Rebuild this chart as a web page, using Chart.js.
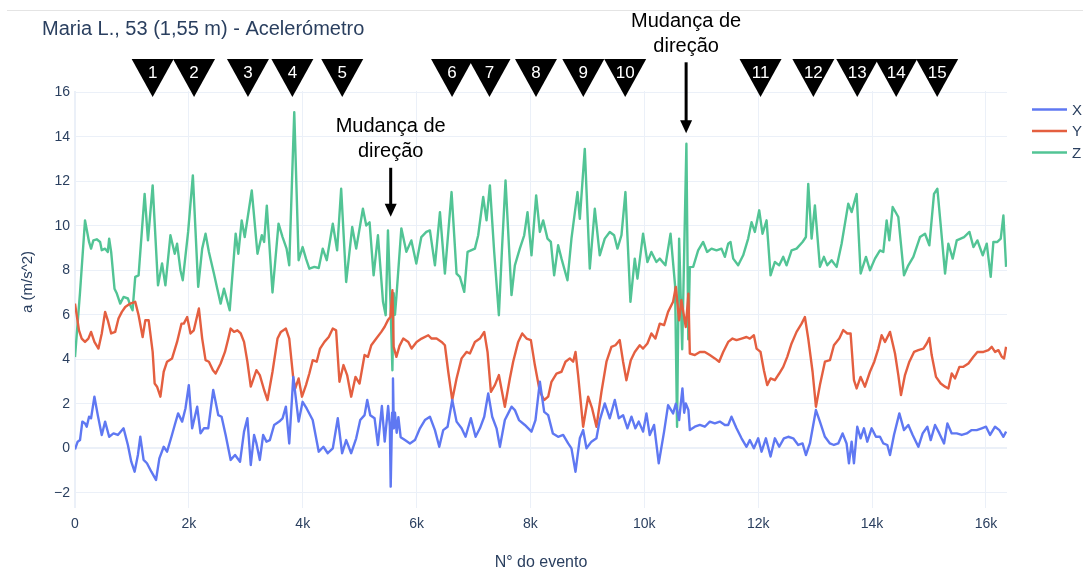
<!DOCTYPE html>
<html>
<head>
<meta charset="utf-8">
<title>Maria L., 53 (1,55 m) - Acelerómetro</title>
<script src="https://cdn.jsdelivr.net/npm/chart.js@4.4.1/dist/chart.umd.min.js"></script>
<style>
  html, body { margin: 0; padding: 0; background: #ffffff; }
  #wrap { width: 1083px; height: 581px; position: relative; }
</style>
</head>
<body>
<div id="wrap"><canvas id="chart" width="1083" height="581"></canvas></div>
<script>
// ---- Accelerometer samples (event number, acceleration in m/s^2) ----
const eventsX = [0,47,88,129,176,206,247,282,341,400,470,529,600,676,753,853,929,988,1047,1105,1147,1205,1264,1341,1423,1482,1558,1617,1694,1752,1811,1882,1940,1999,2058,2146,2205,2264,2340,2428,2517,2575,2646,2734,2811,2899,2969,3028,3087,3146,3187,3246,3305,3363,3422,3498,3587,3646,3704,3763,3834,3928,3998,4069,4175,4281,4363,4439,4528,4616,4692,4763,4851,4939,5010,5086,5133,5186,5262,5321,5390,5440,5500,5530,5545,5570,5585,5600,5620,5650,5680,5720,5795,5883,5971,6059,6146,6234,6322,6398,6468,6544,6626,6702,6790,6860,6953,7036,7112,7188,7258,7328,7404,7463,7550,7609,7667,7726,7798,7901,8018,8088,8165,8241,8311,8393,8486,8574,8662,8720,8791,8867,8925,8984,9071,9159,9217,9305,9393,9481,9551,9627,9703,9774,9843,9902,9978,10037,10095,10171,10253,10347,10417,10505,10553,10611,10669,10700,10728,10774,10799,10887,10975,11062,11150,11238,11326,11414,11473,11531,11619,11707,11795,11853,11924,12000,12059,12135,12217,12293,12369,12451,12527,12615,12703,12779,12838,12908,13014,13084,13172,13260,13330,13406,13482,13552,13594,13641,13682,13740,13799,13857,13916,13992,14068,14139,14198,14268,14315,14385,14479,14561,14637,14713,14813,14889,14971,15030,15106,15182,15264,15323,15399,15487,15575,15663,15750,15838,15926,16002,16073,16160,16236,16307,16354];
const accelX = [-0.05,0.3,0.37,1.2,1.12,0.97,1.42,1.35,2.32,1.49,0.6,1.2,0.52,0.67,0.6,0.9,0.15,-0.6,-1.05,-0.3,0.52,-0.52,-0.67,-1.05,-1.42,-0.45,0.07,-0.15,0.52,1.05,1.57,1.2,1.79,2.84,0.9,1.87,0.67,0.9,0.9,2.62,1.49,1.42,0.6,-0.52,-0.3,-0.6,0.75,1.35,-0.75,0.6,0.22,-0.52,0.6,0.3,0.37,1.05,1.2,1.35,1.87,0.22,3.21,1.2,2.09,1.79,1.27,-0.15,0.07,-0.22,0.0,1.35,-0.22,0.37,-0.22,0.45,1.27,1.49,2.17,1.49,1.35,0.15,1.9,0.3,1.9,1.0,-1.72,1.6,3.14,0.9,1.6,0.7,1.4,0.5,0.37,0.22,0.37,0.9,1.27,1.42,0.82,0.07,0.82,0.97,2.17,1.2,0.9,0.52,1.35,0.52,0.9,1.42,2.47,1.42,0.9,0.07,1.27,1.57,1.87,1.72,1.27,1.05,0.75,1.27,2.99,1.64,1.49,0.67,0.52,0.6,0.22,0.0,-1.05,0.45,0.82,0.0,0.3,0.45,1.27,2.02,1.35,2.17,1.35,1.49,0.9,1.42,0.9,1.2,0.75,1.57,0.6,1.05,-0.67,0.75,1.94,1.57,2.0,1.27,2.69,1.6,2.02,1.72,0.82,0.97,1.05,0.97,1.2,1.12,1.2,1.05,1.05,1.42,0.9,0.45,0.07,0.37,0.0,0.45,-0.15,0.45,-0.37,0.45,0.07,0.45,0.52,0.45,0.15,0.22,-0.3,0.22,1.72,1.2,0.52,0.22,0.15,0.22,0.67,0.22,-0.67,0.3,-0.67,0.97,0.45,0.9,0.3,0.9,0.52,0.52,0.22,0.15,-0.3,0.6,1.57,0.82,1.05,0.6,0.07,0.67,0.97,0.37,1.05,0.67,0.22,1.12,0.67,0.67,0.6,0.67,0.82,0.82,0.9,0.97,0.6,0.97,0.82,0.52,0.75];

const eventsY = [0,70,118,176,235,282,341,412,470,529,576,635,706,764,823,882,970,1058,1117,1188,1235,1294,1364,1399,1441,1500,1558,1617,1705,1793,1870,1911,1970,2029,2087,2176,2234,2293,2352,2423,2470,2558,2634,2693,2734,2793,2852,2911,2969,3028,3087,3146,3187,3246,3322,3381,3469,3557,3616,3704,3763,3834,3869,3928,3987,4057,4116,4175,4245,4304,4381,4457,4528,4586,4645,4716,4780,4851,4927,4998,5086,5145,5204,5292,5380,5439,5497,5540,5575,5597,5645,5700,5766,5854,5912,6000,6088,6205,6263,6351,6439,6497,6556,6626,6702,6790,6877,6936,7024,7112,7188,7246,7305,7375,7445,7550,7638,7696,7784,7855,7931,8007,8077,8165,8241,8311,8369,8457,8545,8615,8691,8750,8791,8837,8925,9013,9083,9159,9247,9335,9422,9492,9568,9627,9685,9762,9832,9919,9978,10054,10124,10194,10271,10347,10417,10505,10553,10611,10650,10728,10774,10799,10887,10975,11062,11150,11238,11314,11385,11473,11549,11619,11707,11795,11853,11924,11971,12041,12100,12158,12217,12293,12369,12440,12510,12586,12674,12762,12820,12879,12955,13014,13084,13172,13260,13330,13424,13494,13565,13623,13682,13729,13799,13875,13963,14039,14110,14168,14227,14315,14403,14461,14508,14578,14655,14737,14813,14901,14960,15006,15047,15123,15206,15282,15340,15399,15457,15534,15604,15692,15780,15850,15956,16043,16102,16160,16219,16278,16319,16354];
const accelY = [6.5,5.3,4.93,4.78,4.93,5.23,4.78,4.48,5.16,6.13,5.75,5.16,5.23,5.83,6.13,6.35,6.5,6.58,5.98,5.0,5.75,5.75,4.33,2.91,2.77,2.32,3.44,3.89,4.04,4.78,5.6,5.6,5.9,5.16,5.3,6.28,4.93,3.96,3.89,3.51,3.36,3.81,4.33,4.93,5.38,5.23,5.3,5.16,4.78,3.89,2.77,3.21,3.51,3.29,2.62,2.17,3.44,4.93,5.23,5.38,4.93,3.14,2.69,3.14,2.32,2.84,3.36,3.96,3.89,4.48,4.78,5.0,5.38,5.3,2.99,3.74,3.29,2.32,3.21,2.91,4.19,4.11,4.63,4.93,5.23,5.46,5.76,5.9,7.1,4.56,4.11,4.6,4.93,4.78,4.48,4.78,4.93,5.08,4.93,4.93,4.78,4.63,3.44,2.17,3.14,4.04,4.33,4.26,4.78,4.93,5.23,4.33,2.54,2.84,3.29,1.87,3.14,3.89,4.78,5.16,4.93,4.86,3.74,2.54,2.17,2.32,2.99,3.36,3.44,3.89,4.04,3.89,4.33,3.29,0.97,2.32,1.79,0.97,2.54,3.89,4.56,4.63,4.86,3.89,3.06,3.96,4.33,4.63,4.48,4.71,5.16,4.93,5.6,5.53,6.13,6.58,7.25,5.75,6.65,5.45,6.95,4.26,4.19,4.33,4.33,4.19,4.04,3.89,4.33,4.78,4.93,4.86,4.93,5.0,4.93,5.08,4.48,4.33,3.51,2.84,3.14,3.06,3.36,3.66,4.11,4.71,5.23,5.6,5.9,4.93,3.44,1.87,2.84,3.89,3.96,4.63,4.93,5.31,5.16,5.16,3.06,2.69,3.21,2.77,3.44,3.89,4.48,5.08,4.78,5.23,4.26,3.29,2.39,3.29,3.89,4.33,4.41,4.48,4.71,4.96,4.19,3.21,2.91,2.77,2.69,3.36,3.14,3.66,3.66,3.81,4.11,4.33,4.33,4.41,4.56,4.33,4.41,4.11,4.04,4.56];

const eventsZ = [0,88,176,247,282,323,382,441,470,529,576,600,635,694,735,794,853,929,970,1011,1058,1117,1223,1282,1364,1458,1529,1588,1676,1752,1793,1852,1893,1987,2070,2164,2234,2293,2352,2440,2499,2558,2617,2717,2822,2869,2928,2981,3105,3205,3281,3322,3369,3469,3575,3646,3716,3763,3851,3928,3998,4057,4116,4204,4281,4351,4422,4528,4604,4675,4763,4869,4939,5057,5116,5174,5245,5321,5410,5457,5497,5540,5575,5597,5620,5645,5732,5820,5908,5995,6083,6171,6234,6322,6410,6497,6614,6702,6760,6837,6895,7024,7082,7170,7228,7287,7363,7445,7503,7562,7667,7726,7813,7890,7948,8018,8100,8165,8223,8299,8358,8416,8486,8545,8650,8720,8826,8867,8954,9042,9130,9217,9305,9393,9469,9528,9598,9668,9756,9832,9879,9978,10054,10124,10212,10271,10370,10460,10540,10575,10611,10665,10739,10772,10799,10858,10945,11033,11103,11180,11268,11355,11414,11473,11514,11561,11648,11736,11824,11883,11941,12018,12076,12147,12217,12293,12369,12440,12498,12586,12674,12779,12838,12879,12938,12996,13084,13154,13213,13289,13377,13465,13582,13641,13729,13799,13893,13963,14051,14139,14198,14256,14303,14362,14461,14561,14637,14725,14842,14930,15006,15088,15147,15206,15282,15340,15416,15487,15557,15616,15710,15780,15850,15944,16014,16084,16131,16201,16260,16307,16354];
const accelZ = [4.1,7.0,10.24,9.27,8.97,9.34,9.39,9.27,8.9,8.97,8.82,9.42,8.82,7.17,6.95,6.5,6.8,6.73,6.43,6.2,7.7,7.77,11.43,9.34,11.81,7.32,8.3,7.32,9.57,8.74,9.19,8.0,7.55,9.72,12.26,7.25,8.97,9.64,8.82,7.85,7.17,6.5,7.17,6.2,9.64,8.74,10.24,9.49,11.58,8.74,9.57,9.27,10.9,7.0,10.09,9.49,8.97,8.22,15.1,8.45,9.04,8.52,8.07,8.15,8.1,8.97,8.45,10.09,8.89,11.66,7.47,9.94,8.97,10.76,10.01,10.15,7.77,9.57,6.58,5.98,9.79,6.65,3.51,6.97,6.0,6.8,9.88,8.83,9.34,8.3,9.49,9.72,9.79,8.22,10.61,7.85,11.51,7.85,7.7,7.03,8.82,8.97,9.57,11.29,10.24,11.81,8.82,5.98,9.12,12.03,6.88,8.22,8.97,9.57,10.61,8.67,11.36,9.72,10.24,9.42,9.27,7.77,9.12,8.52,7.55,9.42,11.51,10.31,13.45,8.07,10.76,8.67,9.42,9.72,9.57,8.97,9.57,11.51,6.58,8.52,7.62,9.64,8.37,8.82,8.37,8.52,8.22,9.64,7.32,0.97,9.42,4.45,13.68,4.9,8.14,8.15,8.89,9.27,8.82,8.97,8.89,8.97,8.6,9.19,9.27,8.52,8.22,8.67,9.42,10.16,9.72,10.69,9.64,10.24,7.77,8.37,8.22,8.6,8.22,8.89,8.97,9.27,9.49,11.88,9.42,10.91,8.15,8.6,8.22,8.45,8.15,9.19,10.99,10.61,11.43,7.85,8.6,8.0,8.52,8.89,8.82,10.24,9.34,10.84,10.39,7.77,8.22,8.6,9.49,9.64,9.12,11.43,11.66,10.01,7.85,9.19,8.52,9.34,9.42,9.49,9.72,9.04,9.34,8.67,9.19,7.7,9.27,9.27,9.42,10.46,8.15];

// ---- Axis ticks ----
const xTickValues = [0, 2000, 4000, 6000, 8000, 10000, 12000, 14000, 16000];
const yTickValues = [-2, 0, 2, 4, 6, 8, 10, 12, 14, 16];

// ---- Step markers (numbered triangles) and direction changes ----
const stepLabels = ['1','2','3','4','5','6','7','8','9','10','11','12','13','14','15'];
const stepEvents = [1364, 2091, 3038, 3818, 4694, 6623, 7280, 8097, 8928, 9664, 12041, 12969, 13740, 14424, 15144];
const turnEvents = [5545, 10734];
const turnTipValues = [10.4, 14.15];
const turnText = ['Mudança de', 'direção'];

const COLORS = { X: '#5f78f2', Y: '#e45f40', Z: '#52c495' };
const INK = '#2a3f5f';
const GRID = '#EBF0F8';
const FONT = '"Liberation Sans", Arial, Helvetica, sans-serif';

function toPoints(xs, ys) {
  return xs.map((v, i) => ({ x: v, y: ys[i] }));
}

const seriesList = [
  { label: 'X', data: toPoints(eventsX, accelX), color: COLORS.X },
  { label: 'Y', data: toPoints(eventsY, accelY), color: COLORS.Y },
  { label: 'Z', data: toPoints(eventsZ, accelZ), color: COLORS.Z }
];

// Title, axis titles, legend, step triangles and direction arrows
const decorations = {
  id: 'decorations',
  afterDraw(chart) {
    const { ctx } = chart;
    const xs = chart.scales.x, ys = chart.scales.y;
    ctx.save();

    // thin rule across the top
    ctx.strokeStyle = '#e4e4e4';
    ctx.lineWidth = 1;
    ctx.beginPath();
    ctx.moveTo(7, 10.5);
    ctx.lineTo(1083, 10.5);
    ctx.stroke();

    // chart title
    ctx.fillStyle = INK;
    ctx.font = '20px ' + FONT;
    ctx.textAlign = 'left';
    ctx.textBaseline = 'alphabetic';
    ctx.fillText('Maria L., 53 (1,55 m) - Acelerómetro', 42, 35);

    // axis titles
    ctx.font = '16px ' + FONT;
    ctx.textAlign = 'center';
    ctx.textBaseline = 'middle';
    ctx.fillText('N° do evento', (chart.chartArea.left + chart.chartArea.right) / 2, 563);
    ctx.save();
    ctx.translate(28, 282);
    ctx.rotate(-Math.PI / 2);
    ctx.font = '15px ' + FONT;
    ctx.fillText('a (m/s^2)', 0, 0);
    ctx.restore();

    // legend
    seriesList.forEach((s, i) => {
      const ly = 109.5 + i * 21.5;
      ctx.strokeStyle = s.color;
      ctx.lineWidth = 2.4;
      ctx.beginPath();
      ctx.moveTo(1032, ly);
      ctx.lineTo(1067, ly);
      ctx.stroke();
      ctx.fillStyle = INK;
      ctx.font = '15px ' + FONT;
      ctx.textAlign = 'left';
      ctx.textBaseline = 'middle';
      ctx.fillText(s.label, 1072, ly + 1);
    });

    // numbered step triangles
    stepEvents.forEach((ev, i) => {
      const cx = xs.getPixelForValue(ev);
      ctx.fillStyle = '#000000';
      ctx.beginPath();
      ctx.moveTo(cx - 21, 59);
      ctx.lineTo(cx + 21, 59);
      ctx.lineTo(cx, 97);
      ctx.closePath();
      ctx.fill();
      ctx.fillStyle = '#ffffff';
      ctx.font = '17px ' + FONT;
      ctx.textAlign = 'center';
      ctx.textBaseline = 'middle';
      ctx.fillText(stepLabels[i], cx, 73);
    });

    // direction change arrows
    const arrowLengths = [49, 71];
    turnEvents.forEach((ev, i) => {
      const cx = xs.getPixelForValue(ev);
      const tip = ys.getPixelForValue(turnTipValues[i]);
      const tail = tip - arrowLengths[i];
      ctx.strokeStyle = '#000000';
      ctx.fillStyle = '#000000';
      ctx.lineWidth = 3;
      ctx.beginPath();
      ctx.moveTo(cx, tail);
      ctx.lineTo(cx, tip - 10);
      ctx.stroke();
      ctx.beginPath();
      ctx.moveTo(cx - 6, tip - 13);
      ctx.lineTo(cx + 6, tip - 13);
      ctx.lineTo(cx, tip);
      ctx.closePath();
      ctx.fill();
      ctx.font = '20px ' + FONT;
      ctx.textAlign = 'center';
      ctx.textBaseline = 'middle';
      ctx.fillText(turnText[0], cx, tail - 41);
      ctx.fillText(turnText[1], cx, tail - 16);
    });

    ctx.restore();
  }
};

new Chart(document.getElementById('chart').getContext('2d'), {
  type: 'line',
  data: {
    datasets: seriesList.map(s => ({
      label: s.label,
      data: s.data,
      borderColor: s.color,
      backgroundColor: s.color,
      borderWidth: 2.4,
      pointRadius: 0,
      tension: 0,
      borderJoinStyle: 'round',
      fill: false
    }))
  },
  options: {
    responsive: false,
    animation: false,
    layout: { padding: { top: 91, right: 76, left: 0, bottom: 0 } },
    plugins: {
      legend: { display: false },
      title: { display: false },
      tooltip: { enabled: false }
    },
    scales: {
      x: {
        type: 'linear',
        min: 0,
        max: 16370,
        afterBuildTicks: s => { s.ticks = xTickValues.map(v => ({ value: v })); },
        afterFit: s => { s.height = 73; },
        border: { display: false },
        grid: {
          color: GRID,
          lineWidth: c => (c.tick && c.tick.value === 0 ? 2 : 1),
          drawTicks: false
        },
        ticks: {
          padding: 8,
          color: INK,
          maxRotation: 0,
          autoSkip: false,
          font: { family: FONT, size: 14 },
          callback: v => (v === 0 ? '0' : (v / 1000) + 'k')
        }
      },
      y: {
        type: 'linear',
        min: -2.68,
        max: 16.05,
        afterBuildTicks: s => { s.ticks = yTickValues.map(v => ({ value: v })); },
        afterFit: s => { s.width = 75; },
        border: { display: false },
        grid: {
          color: GRID,
          lineWidth: c => (c.tick && c.tick.value === 0 ? 2 : 1),
          drawTicks: false
        },
        ticks: {
          padding: 5,
          color: INK,
          autoSkip: false,
          font: { family: FONT, size: 14 },
          callback: v => (v < 0 ? '\u2212' + Math.abs(v) : String(v))
        }
      }
    }
  },
  plugins: [decorations]
});
</script>
</body>
</html>
